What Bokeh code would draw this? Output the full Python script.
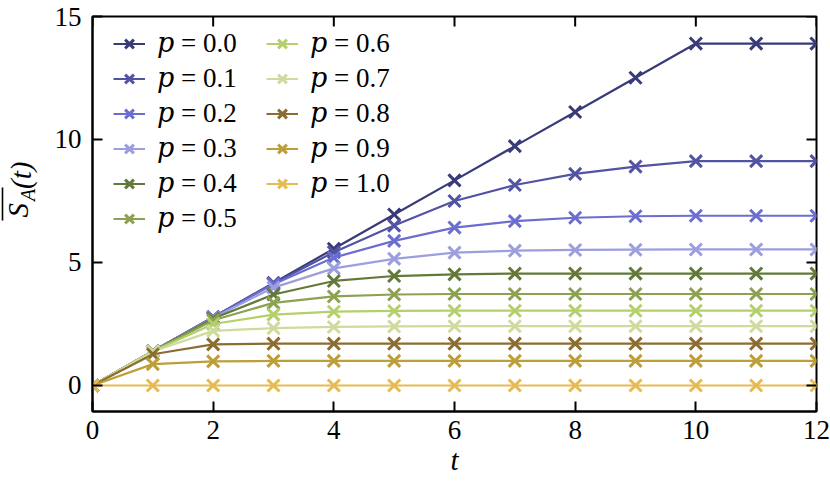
from math import pi
from bokeh.plotting import figure
from bokeh.layouts import row
from bokeh.models import Range1d, FixedTicker, Legend, LegendItem
from bokeh.core.properties import value
from bokeh.embed import file_html
from bokeh.resources import INLINE

t = [0, 1, 2, 3, 4, 5, 6, 7, 8, 9, 10, 11, 12]
p_values = ["0.0", "0.1", "0.2", "0.3", "0.4", "0.5", "0.6", "0.7", "0.8", "0.9", "1.0"]
s_p00 = [0, 1.39, 2.78, 4.17, 5.56, 6.95, 8.34, 9.73, 11.12, 12.51, 13.90, 13.90, 13.90]
s_p01 = [0, 1.39, 2.78, 4.15, 5.42, 6.50, 7.50, 8.15, 8.60, 8.90, 9.12, 9.12, 9.12]
s_p02 = [0, 1.39, 2.77, 4.12, 5.20, 5.88, 6.42, 6.68, 6.82, 6.88, 6.90, 6.90, 6.90]
s_p03 = [0, 1.39, 2.75, 3.98, 4.76, 5.15, 5.40, 5.48, 5.51, 5.52, 5.53, 5.53, 5.53]
s_p04 = [0, 1.39, 2.72, 3.70, 4.25, 4.45, 4.52, 4.55, 4.55, 4.55, 4.55, 4.55, 4.55]
s_p05 = [0, 1.39, 2.65, 3.36, 3.62, 3.70, 3.72, 3.72, 3.72, 3.72, 3.72, 3.72, 3.72]
s_p06 = [0, 1.39, 2.50, 2.88, 3.00, 3.03, 3.04, 3.04, 3.04, 3.04, 3.04, 3.04, 3.04]
s_p07 = [0, 1.38, 2.22, 2.33, 2.38, 2.40, 2.41, 2.41, 2.41, 2.41, 2.41, 2.41, 2.41]
s_p08 = [0, 1.27, 1.67, 1.70, 1.70, 1.70, 1.70, 1.70, 1.70, 1.70, 1.70, 1.70, 1.70]
s_p09 = [0, 0.87, 0.98, 1.00, 1.00, 1.00, 1.00, 1.00, 1.00, 1.00, 1.00, 1.00, 1.00]
s_p10 = [0, 0, 0, 0, 0, 0, 0, 0, 0, 0, 0, 0, 0]
series = [s_p00, s_p01, s_p02, s_p03, s_p04, s_p05, s_p06, s_p07, s_p08, s_p09, s_p10]
colors = ["#393b79", "#5254a3", "#6b6ecf", "#9c9ede", "#637939", "#8ca252",
          "#b5cf6b", "#cedb9c", "#8c6d31", "#bd9e39", "#e7ba52"]
x_ticks = [0, 2, 4, 6, 8, 10, 12]
y_ticks = [0, 5, 10, 15]
x_label = "t"

FONT = "Liberation Serif"
X0, X1, Y0, Y1 = 0, 12, -1.057, 15
W, H = 790, 484
BL, BR, BT, BB = 52, 14, 16, 73
TICK = 10  # px, inward

p = figure(width=W, height=H, output_backend="svg", toolbar_location=None,
           x_range=Range1d(X0, X1), y_range=Range1d(Y0, Y1),
           min_border_left=BL, min_border_right=BR, min_border_top=BT, min_border_bottom=BB)
p.xgrid.visible = False
p.ygrid.visible = False
p.outline_line_color = "black"
p.outline_line_width = 2
p.background_fill_color = "white"
p.border_fill_color = "white"

p.xaxis.ticker = FixedTicker(ticks=x_ticks)
p.yaxis.ticker = FixedTicker(ticks=y_ticks)
for ax in p.axis:
    ax.major_tick_in = TICK
    ax.major_tick_out = 0
    ax.minor_tick_in = 0
    ax.minor_tick_out = 0
    ax.major_tick_line_width = 2
    ax.major_tick_line_color = "black"
    ax.axis_line_width = 2
    ax.axis_line_color = "black"
    ax.major_label_text_font = FONT
    ax.major_label_text_font_size = "27px"
    ax.major_label_text_color = "black"
bx = p.xaxis[0]
bx.major_label_standoff = 9
bx.axis_label = x_label
bx.axis_label_text_font = FONT
bx.axis_label_text_font_style = "italic"
bx.axis_label_text_font_size = "29px"
bx.axis_label_text_color = "black"
bx.axis_label_standoff = 2
p.yaxis[0].major_label_standoff = 11

items = []
for vals, col, pv in zip(series, colors, p_values):
    ln = p.line(t, vals, line_color=col, line_width=2.2)
    sc = p.scatter(t, vals, marker="x", size=17, line_color=col, line_width=3)
    items.append(LegendItem(label="\U0001D45D = " + pv, renderers=[ln, sc]))

# inward ticks on the top and right edges (mirroring the bottom/left axes)
fw = W - BL - BR
fh = H - BT - BB
dx = TICK * (X1 - X0) / fw
dy = TICK * (Y1 - Y0) / fh
p.segment(x0=x_ticks, y0=[Y1] * len(x_ticks), x1=x_ticks, y1=[Y1 - dy] * len(x_ticks),
          line_color="black", line_width=2)
p.segment(x0=[X1] * len(y_ticks), y0=y_ticks, x1=[X1 - dx] * len(y_ticks), y1=y_ticks,
          line_color="black", line_width=2)

legend = Legend(items=items, location=(21, 177), orientation="vertical", nrows=6,
                glyph_width=32, glyph_height=31, label_height=31, label_width=106,
                label_standoff=12, spacing=3, padding=0, margin=0,
                label_text_font="Liberation Serif, DejaVu Serif", label_text_font_size="27px",
                label_text_color="black", border_line_color=None,
                background_fill_alpha=0)
p.add_layout(legend)

# narrow panel on the left holding the y-axis label  overline{S_A}(t)
yl = figure(width=40, height=H, output_backend="svg", toolbar_location=None,
            x_range=Range1d(0, 40), y_range=Range1d(H, 0),
            x_axis_location=None, y_axis_location=None,
            min_border_left=0, min_border_right=0, min_border_top=0, min_border_bottom=0)
yl.xgrid.visible = False
yl.ygrid.visible = False
yl.outline_line_color = None
yl.background_fill_color = "white"
yl.border_fill_color = "white"
yl.text(x=[17.5], y=[237.5], text=["S"], angle=pi / 2, text_align="center",
        text_baseline="middle", text_font=value(FONT), text_font_style="italic",
        text_font_size="29px", text_color="black")
yl.text(x=[27], y=[218.5], text=["A"], angle=pi / 2, text_align="center",
        text_baseline="middle", text_font=value(FONT), text_font_style="italic",
        text_font_size="20px", text_color="black")
yl.text(x=[20], y=[194.5], text=["(t)"], angle=pi / 2, text_align="center",
        text_baseline="middle", text_font=value(FONT), text_font_style="italic",
        text_font_size="29px", text_color="black")
yl.segment(x0=[2], y0=[209.5], x1=[2], y1=[250], line_color="black", line_width=1.6)

layout = row(yl, p, spacing=0)
open("out.html", "w").write(file_html(layout, INLINE))
